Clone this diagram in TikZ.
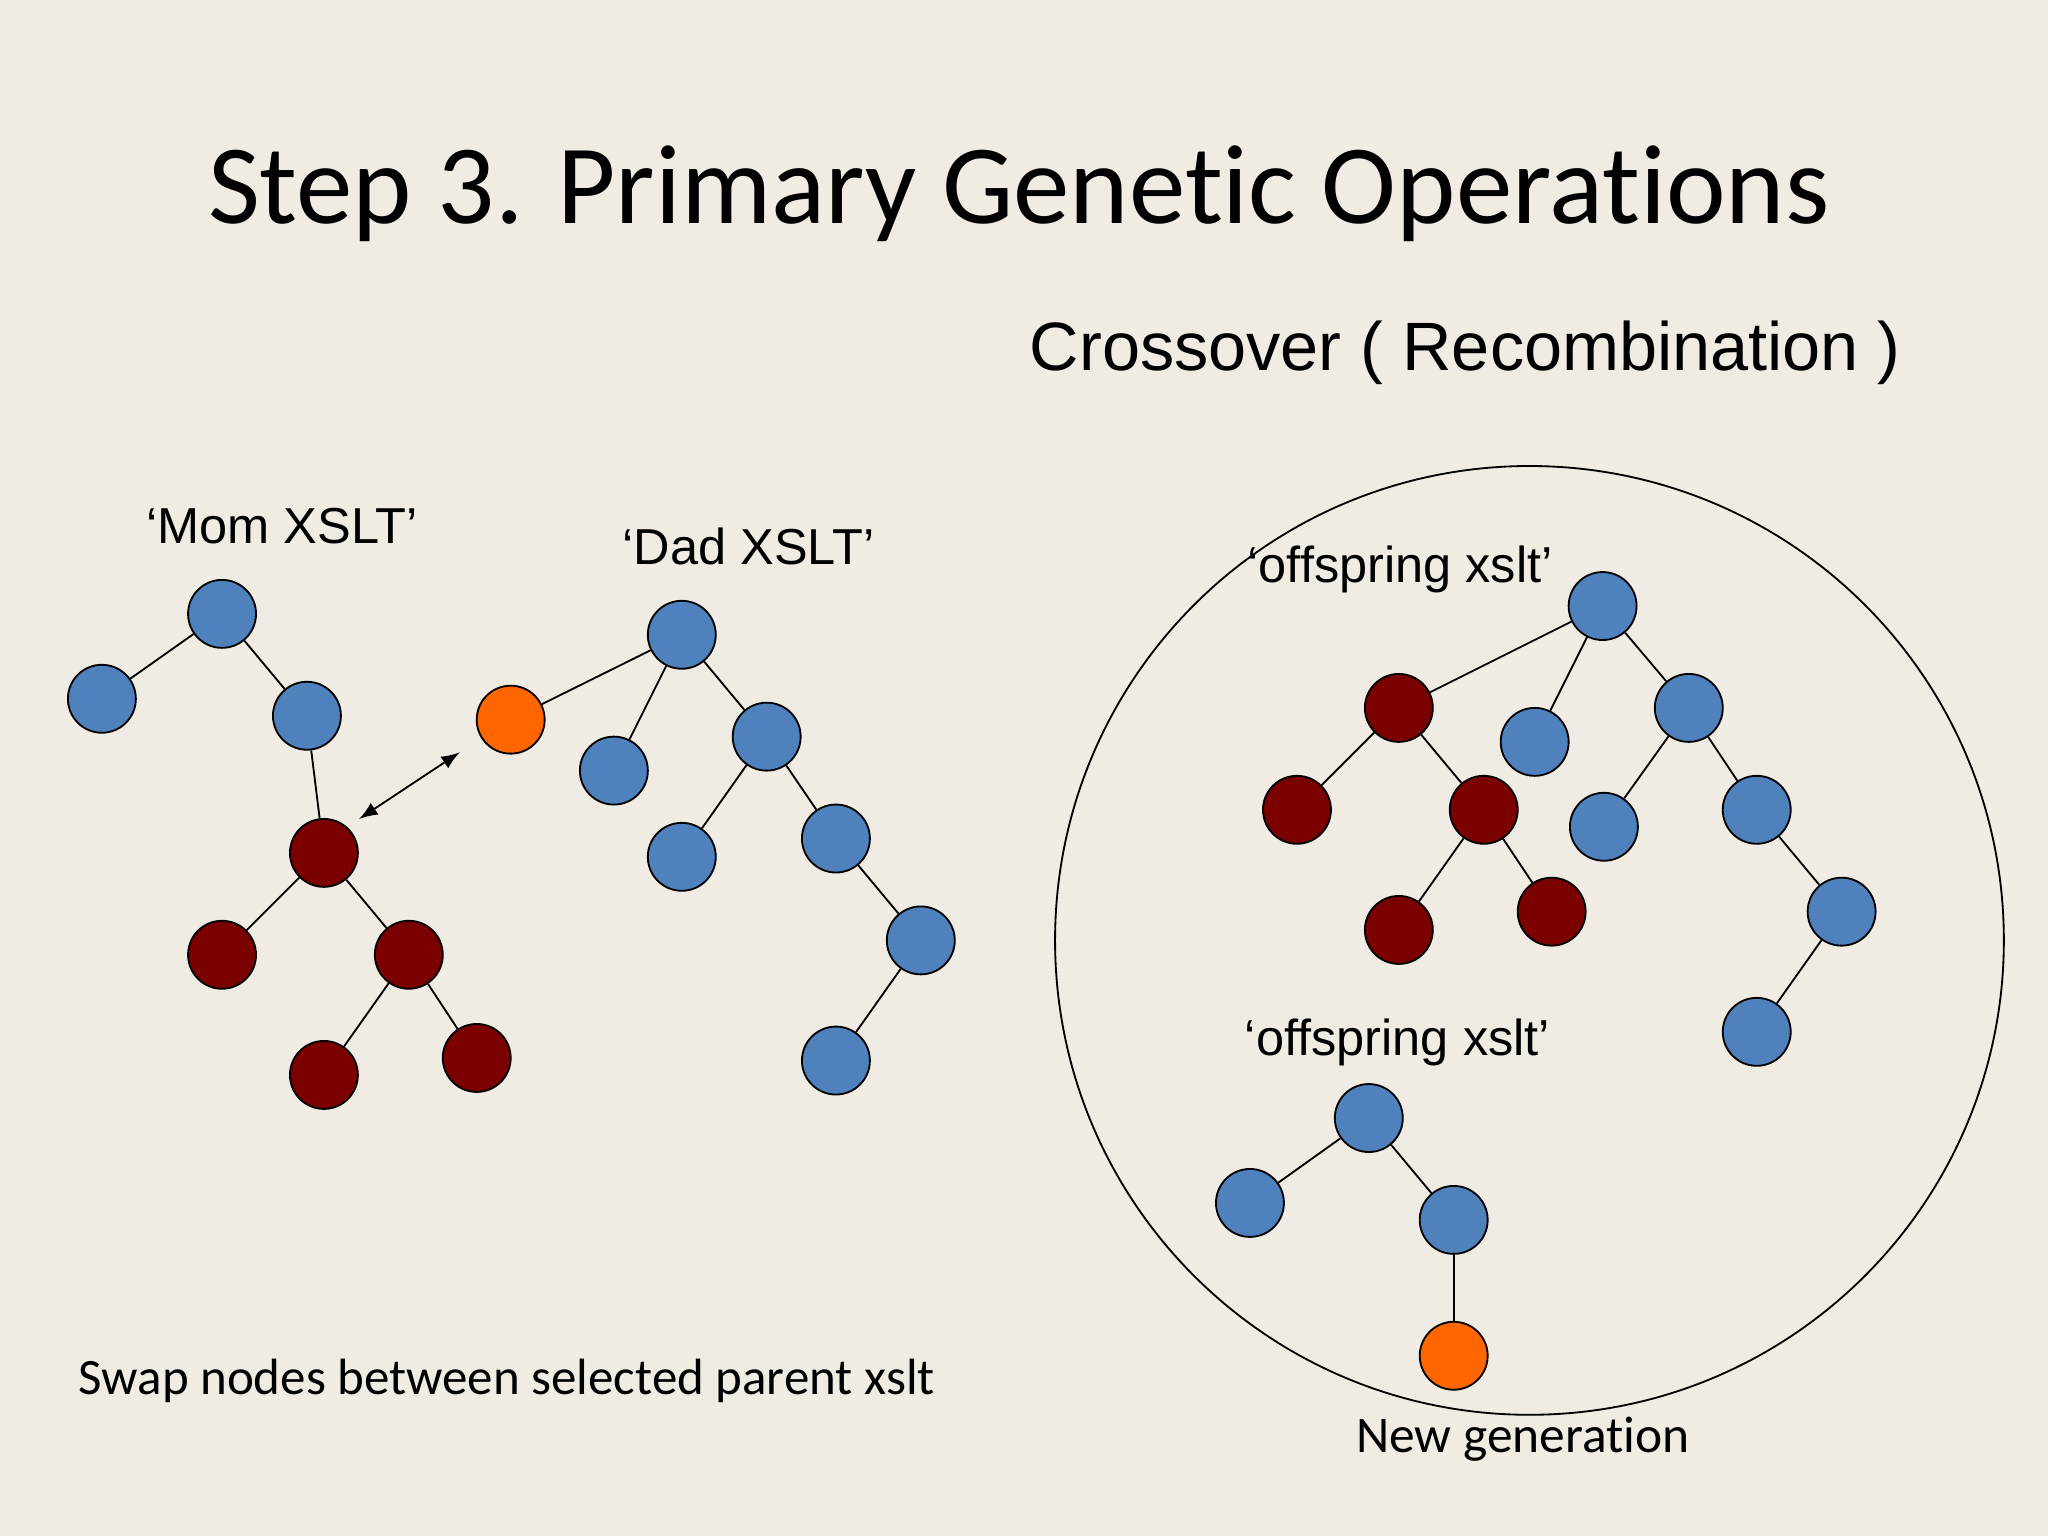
\documentclass[tikz,border=0pt]{standalone}
\usepackage{fontspec}
\setmainfont{Carlito}[Ligatures={NoCommon}]
\newfontfamily\arialfont{Liberation Sans}
\usepackage{tikz}
\definecolor{bg}{HTML}{F0ECE4}
\definecolor{nodeblue}{HTML}{4F81BD}
\definecolor{nodered}{HTML}{7B0000}
\definecolor{nodeorange}{HTML}{FF6600}
\begin{document}
\begin{tikzpicture}
            [x=0.01cm,y=-0.01cm,thin,
             gene/.style={circle,draw=black,minimum size=0.52cm,inner sep=0pt,fill=nodeblue},
             redgene/.style={gene,fill=nodered},
             orangegene/.style={gene,fill=nodeorange},
             lbl/.style={font=\arialfont\fontsize{11}{13}\selectfont}]
            \fill[bg] (0,0) rectangle (1568,1176);
            \useasboundingbox (0,0) rectangle (1568,1176);

            % titles
            \node (title) at (780,148) {\fontsize{24.6}{28}\selectfont Step 3. Primary Genetic Operations};
            \node (cross) at (1122,270) {\arialfont\fontsize{14.9}{18}\selectfont Crossover ( Recombination )};

            % mom tree
            \node[lbl] (momlbl) at (216,403) {‘Mom XSLT’};
            \node[gene] (M1) at (170,470) {};
            \node[gene] (M2) at ( 78,535) {};
            \node[gene] (M3) at (235,548) {};
            \node[redgene] (M4) at (248,653) {};
            \node[redgene] (M5) at (170,731) {};
            \node[redgene] (M6) at (313,731) {};
            \node[redgene] (M7) at (248,823) {};
            \node[redgene] (M8) at (365,810) {};
            \draw (M1) -- (M2);
            \draw (M1) -- (M3);
            \draw (M3) -- (M4);
            \draw (M4) -- (M5);
            \draw (M4) -- (M6);
            \draw (M6) -- (M7);
            \draw (M6) -- (M8);

            % dad tree
            \node[lbl] (dadlbl) at (573,418) {‘Dad XSLT’};
            \node[gene] (D1) at (522,486) {};
            \node[orangegene] (D2) at (391,551) {};
            \node[gene] (D3) at (470,590) {};
            \node[gene] (D4) at (587,564) {};
            \node[gene] (D5) at (522,656) {};
            \node[gene] (D6) at (640,642) {};
            \node[gene] (D7) at (705,720) {};
            \node[gene] (D8) at (640,812) {};
            \draw (D1) -- (D2);
            \draw (D1) -- (D3);
            \draw (D1) -- (D4);
            \draw (D4) -- (D5);
            \draw (D4) -- (D6);
            \draw (D6) -- (D7);
            \draw (D7) -- (D8);

            % swap arrow
            \coordinate (swapA) at (275,627);
            \coordinate (swapB) at (352,576);
            \draw[<->,>=latex] (swapA) -- (swapB);
            \node (swap) at (388,1057) {\fontsize{11.1}{13}\selectfont Swap nodes between selected parent xslt};

            % new generation
            \node[circle,draw=black,minimum size=7.26cm,inner sep=0pt] (pool) at (1171,720) {};
            \node (newgen) at (1166,1102) {\fontsize{11.2}{13}\selectfont New generation};

            % offspring 1
            \node[lbl] (off1lbl) at (1072,436) {‘offspring xslt’};
            \node[gene] (O1) at (1227,464) {};
            \node[redgene] (O2) at (1071,542) {};
            \node[gene] (O3) at (1175,568) {};
            \node[gene] (O4) at (1293,542) {};
            \node[redgene] (O5) at (993,620) {};
            \node[redgene] (O6) at (1136,620) {};
            \node[gene] (O7) at (1228,633) {};
            \node[gene] (O8) at (1345,620) {};
            \node[redgene] (O9) at (1071,712) {};
            \node[redgene] (O10) at (1188,698) {};
            \node[gene] (O11) at (1410,698) {};
            \node[gene] (O12) at (1345,790) {};
            \draw (O1) -- (O2);
            \draw (O1) -- (O3);
            \draw (O1) -- (O4);
            \draw (O2) -- (O5);
            \draw (O2) -- (O6);
            \draw (O6) -- (O9);
            \draw (O6) -- (O10);
            \draw (O4) -- (O7);
            \draw (O4) -- (O8);
            \draw (O8) -- (O11);
            \draw (O11) -- (O12);

            % offspring 2
            \node[lbl] (off2lbl) at (1070,798) {‘offspring xslt’};
            \node[gene] (P1) at (1048,856) {};
            \node[gene] (P2) at (957,921) {};
            \node[gene] (P3) at (1113,934) {};
            \node[orangegene] (P4) at (1113,1038) {};
            \draw (P1) -- (P2);
            \draw (P1) -- (P3);
            \draw (P3) -- (P4);
        \end{tikzpicture}
\end{document}
